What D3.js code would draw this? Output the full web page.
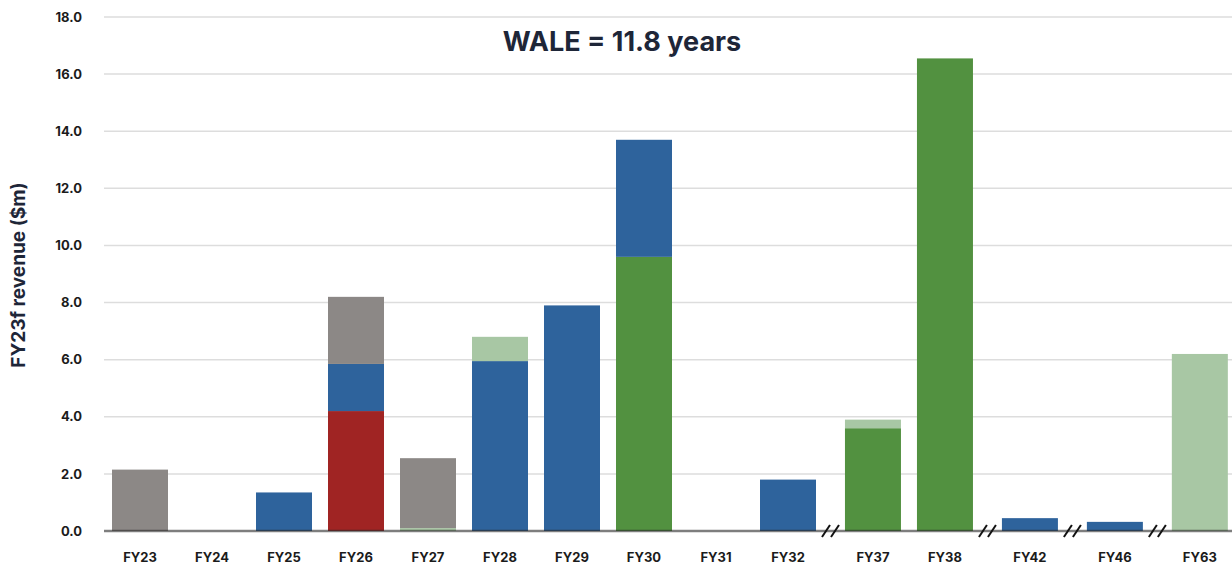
<!DOCTYPE html>
<html>
<head>
<meta charset="utf-8">
<script src="https://cdn.jsdelivr.net/npm/d3@7.9.0/dist/d3.min.js"></script>
<style>
  body { margin: 0; background: #fff; }
  svg { display: block; font-family: Inter, "Noto Sans", sans-serif; }
</style>
</head>
<body>
<svg id="chart" width="1232" height="564"></svg>
<script>
// categories and whether an axis break sits before each one
const years = ['FY23', 'FY24', 'FY25', 'FY26', 'FY27', 'FY28', 'FY29', 'FY30', 'FY31', 'FY32', 'FY37', 'FY38', 'FY42', 'FY46', 'FY63'];
const breakBefore = ['FY37', 'FY42', 'FY46', 'FY63'];

// series values ($m), stacked bottom to top in this order
const red        = [0,    0, 0,    4.2,  0,    0,    0,   0,    0, 0,   0,   0,     0,    0,    0];
const darkGreen  = [0,    0, 0,    0,    0,    0,    0,   9.6,  0, 0,   3.6, 16.55, 0,    0,    0];
const blue       = [0,    0, 1.35, 1.65, 0,    5.95, 7.9, 4.1,  0, 1.8, 0,   0,     0.45, 0.32, 0];
const lightGreen = [0,    0, 0,    0,    0.1,  0.85, 0,   0,    0, 0,   0.3, 0,     0,    0,    6.2];
const grey       = [2.15, 0, 0,    2.35, 2.45, 0,    0,   0,    0, 0,   0,   0,     0,    0,    0];

const yTicks = [0, 2, 4, 6, 8, 10, 12, 14, 16, 18];
const title = 'WALE = 11.8 years';
const yTitle = 'FY23f revenue ($m)';

const keys = ['red', 'darkGreen', 'blue', 'lightGreen', 'grey'];
const colors = { red: '#a02423', darkGreen: '#529140', blue: '#2e639c', lightGreen: '#a8c7a4', grey: '#8c8886' };
const series = { red, darkGreen, blue, lightGreen, grey };

const rows = years.map((y, i) => {
  let r = { year: y };
  keys.forEach(k => r[k] = series[k][i]);
  return r;
});

// slot position: index plus a small extra gap for each break
let breaks = 0;
const slot = {};
years.forEach((y, i) => {
  if (breakBefore.includes(y)) breaks++;
  slot[y] = i + breaks * 0.18;
});

const svg = d3.select('#chart');
const plotLeft = 104, plotRight = 1232, plotTop = 17, plotBottom = 531;

const x = d3.scaleLinear().domain([0, 1]).range([140, 212]);
const y = d3.scaleLinear().domain([0, 18]).range([plotBottom, plotTop]);
const barW = 56;

// gridlines
svg.append('g').selectAll('line').data(yTicks.filter(d => d > 0)).join('line')
  .attr('x1', plotLeft).attr('x2', plotRight)
  .attr('y1', d => y(d)).attr('y2', d => y(d))
  .attr('stroke', '#dddddd').attr('stroke-width', 1.5);

// y axis labels
const yAxis = svg.append('g').attr('transform', `translate(${plotLeft - 22},0)`)
  .call(d3.axisLeft(y).tickValues(yTicks).tickFormat(d3.format('.1f')).tickSize(0).tickPadding(0));
yAxis.select('.domain').remove();
yAxis.selectAll('text').attr('font-size', 13).attr('font-weight', 700).attr('fill', '#1b1b1b')
  .attr('font-family', 'Inter, sans-serif');

// stacked bars
const stack = d3.stack().keys(keys)(rows);
svg.append('g').selectAll('g').data(stack).join('g')
  .attr('fill', d => colors[d.key])
  .selectAll('rect').data(d => d.filter(s => s[1] - s[0] > 0)).join('rect')
  .attr('x', d => x(slot[d.data.year]) - barW / 2)
  .attr('width', barW)
  .attr('y', d => y(d[1]))
  .attr('height', d => y(d[0]) - y(d[1]));

// baseline
svg.append('line')
  .attr('x1', plotLeft).attr('x2', plotRight)
  .attr('y1', plotBottom).attr('y2', plotBottom)
  .attr('stroke', 'rgba(40,40,40,0.6)').attr('stroke-width', 2.5);

// break marks
const breakX = breakBefore.map(b => {
  const i = years.indexOf(b);
  return (x(slot[years[i - 1]]) + x(slot[b])) / 2;
});
const marks = svg.append('g').selectAll('g').data(breakX).join('g')
  .attr('transform', d => `translate(${d},${plotBottom})`);
[-4.5, 4.5].forEach(dx => {
  marks.append('line')
    .attr('x1', dx - 4).attr('y1', 6).attr('x2', dx + 4).attr('y2', -6)
    .attr('stroke', '#111').attr('stroke-width', 2);
});

// x labels
svg.append('g').selectAll('text').data(years).join('text')
  .attr('x', d => x(slot[d]))
  .attr('y', 562)
  .attr('text-anchor', 'middle')
  .attr('font-size', 13).attr('font-weight', 700).attr('fill', '#1b1b1b')
  .text(d => d);

// title
svg.append('text')
  .attr('x', 622).attr('y', 51)
  .attr('text-anchor', 'middle')
  .attr('font-size', 27).attr('font-weight', 700).attr('fill', '#1e2638')
  .text(title);

// y axis title
svg.append('text')
  .attr('transform', `translate(25,275) rotate(-90)`)
  .attr('text-anchor', 'middle')
  .attr('font-size', 19).attr('font-weight', 700).attr('fill', '#1e2638')
  .text(yTitle);
</script>
</body>
</html>
